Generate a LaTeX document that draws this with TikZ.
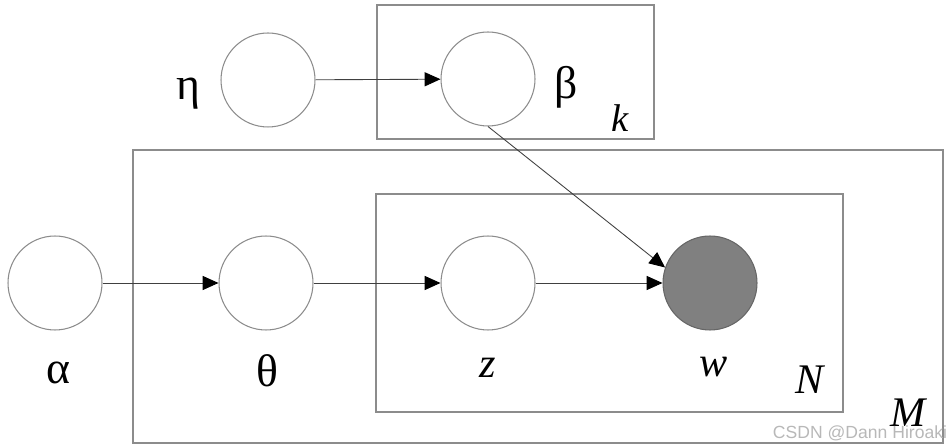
\documentclass[tikz,border=0pt]{standalone}
\usepackage{fontspec}
\setmainfont{Liberation Serif}
\newfontfamily\markfont{Liberation Sans}
\usetikzlibrary{arrows.meta}

\begin{document}
\begin{tikzpicture}[x=0.02cm,y=-0.02cm,
    var/.style={circle,draw=black!45,line width=0.6pt,minimum size=1.88cm,inner sep=0pt},
    obs/.style={var,fill=black!50,draw=black!60},
    plate/.style={draw=black!45,line width=0.8pt},
    edge/.style={draw=black!75,line width=0.5pt,-{Triangle[length=9pt,width=8pt,color=black]}},
    lbl/.style={font=\fontsize{26}{30}\selectfont,inner sep=0pt},
    idx/.style={font=\fontsize{24}{28}\selectfont\itshape,inner sep=0pt}]
\useasboundingbox (0,0) rectangle (946,448);
% plates
\draw[plate] (377,5) rectangle (654,139);
\draw[plate] (133,150) rectangle (943,443);
\draw[plate] (376,194) rectangle (843,412);
% variables
\node[var] (eta) at (268,80) {};
\node[var] (beta) at (488,79) {};
\node[var] (alpha) at (55,283) {};
\node[var] (theta) at (266,283) {};
\node[var] (z) at (488,283) {};
\node[obs] (w) at (710,283) {};
% labels
\node[lbl] (etal) at (188,94) {η};
\node[lbl] (betal) at (566,87) {β};
\node[idx,font=\fontsize{22}{26}\selectfont\itshape] (kl) at (620,118) {k};
\node[lbl] (alphal) at (58,373) {α};
\node[lbl] (thetal) at (267,371) {θ};
\node[idx] (zl) at (488,368) {z};
\node[idx] (wl) at (714,367) {w};
\node[idx] (Nl) at (810,380) {N};
\node[idx] (Ml) at (908,413) {M};
\node[font=\markfont\fontsize{10}{12}\selectfont,text=black!28,inner sep=0pt] (mark) at (860,433) {CSDN @Dann Hiroaki};
% edges
\draw[edge] (eta) -- (beta);
\draw[edge] (beta.south) -- (w.161);
\draw[edge] (alpha) -- (theta);
\draw[edge] (theta) -- (z);
\draw[edge] (z) -- (w);
\end{tikzpicture}
\end{document}
